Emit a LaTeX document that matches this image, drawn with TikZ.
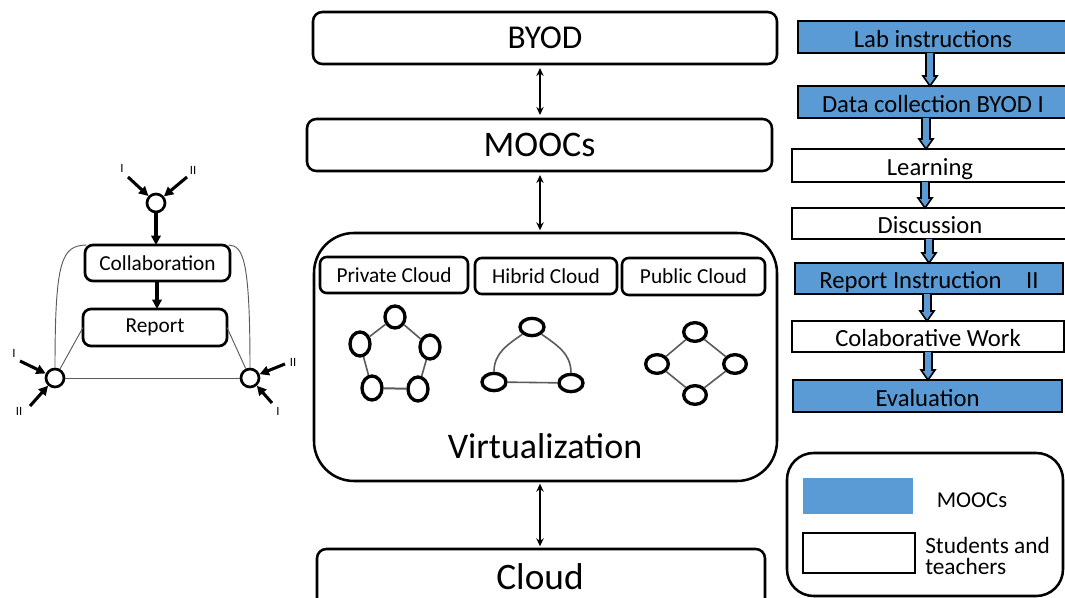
\documentclass[tikz,border=0pt]{standalone}
\usepackage{fontspec}
\setmainfont{Carlito}
\usetikzlibrary{arrows.meta,shapes.geometric,calc}
\definecolor{mblue}{HTML}{5B9BD5}
\definecolor{edgegray}{HTML}{5A5A5A}
\newcommand\flowarrow[3]{%
  \fill[mblue] let \p1=(#1.south), \p2=(#2.north), \p3=(#3,0) in
    (\x3-3pt,\y1) -- (\x3-3pt,\y2+7.5pt) -- (\x3-5.25pt,\y2+7.5pt) -- (\x3,\y2)
    -- (\x3+5.25pt,\y2+7.5pt) -- (\x3+3pt,\y2+7.5pt) -- (\x3+3pt,\y1) -- cycle;
  \draw[line width=1.2pt, line join=miter] let \p1=(#1.south), \p2=(#2.north), \p3=(#3,0) in
    (\x3-3pt,\y1) -- (\x3-3pt,\y2+7.5pt) -- (\x3-5.25pt,\y2+7.5pt) -- (\x3,\y2)
    -- (\x3+5.25pt,\y2+7.5pt) -- (\x3+3pt,\y2+7.5pt) -- (\x3+3pt,\y1);}
% box node from corner (x1,y1) to (x2,y2), in pixel units
\newcommand\bx[7]{%
  \node[#1, minimum width={(#5-#3)*0.75pt}, minimum height={(#6-#4)*0.75pt}]
    (#2) at ({(#3+#5)/2},{(#4+#6)/2}) {#7};}
\begin{document}
\begin{tikzpicture}[x=0.75pt,y=-0.75pt,
  rbox/.style={draw, line width=1.9pt, rounded corners=6pt, inner sep=0pt, outer sep=0pt},
  flowbox/.style={draw, line width=1.9pt, inner sep=0pt, outer sep=0pt, text height=15.75pt, text depth=0pt,
     font=\fontsize{18.5}{20}\selectfont},
  netnode/.style={draw, ellipse, line width=2.5pt, fill=white, inner sep=0pt},
  netedge/.style={draw=edgegray, line width=1.2pt},
  dar/.style={{Stealth[length=6pt,width=5.5pt]}-{Stealth[length=6pt,width=5.5pt]}, line width=1.6pt},
  thar/.style={-{Triangle[length=7pt,width=7pt]}, line width=2.3pt},
  thinl/.style={draw=edgegray, line width=0.7pt},
  dot/.style={draw, circle, line width=2pt, minimum size=13.5pt, inner sep=0pt},
  rn/.style={font=\fontsize{9.5}{10}\selectfont, inner sep=0pt}
]
\useasboundingbox (0,0) rectangle (1065,598);
\clip (0,0) rectangle (1065,598);

% ---------- centre column ----------
\coordinate (ax) at (540,0);
\bx{rbox, rounded corners=7pt, font=\fontsize{25}{28}\selectfont}{byod}{313}{12}{777}{64}{BYOD}
\bx{rbox, rounded corners=7pt, font=\fontsize{27}{30}\selectfont}{moocs}{307}{119}{772}{171}{MOOCs}
\bx{rbox, rounded corners=30pt}{virt}{314}{233}{777}{481}{}
\node[font=\fontsize{27}{30}\selectfont, inner sep=0pt] (virttext) at (545,446) {Virtualization};
\bx{rbox, rounded corners=7pt}{cloud}{317}{549}{765}{612}{}
\node[font=\fontsize{28}{30}\selectfont, inner sep=0pt, text height=19pt, text depth=0pt] (cloudtext) at (540,577) {Cloud};

\bx{rbox, rounded corners=5pt, font=\fontsize{16}{18}\selectfont}{priv}{320}{257}{468}{293}{Private Cloud}
\bx{rbox, rounded corners=5pt, font=\fontsize{16}{18}\selectfont}{hib}{475}{258}{617}{294}{Hibrid Cloud}
\bx{rbox, rounded corners=5pt, font=\fontsize{16}{18}\selectfont}{pub}{622}{258}{765}{295}{Public Cloud}

\draw[dar, shorten <=3pt, shorten >=3pt] (byod.south -| ax) -- (moocs.north -| ax);
\draw[dar, shorten <=3pt, shorten >=2pt] (moocs.south -| ax) -- (virt.north -| ax);
\draw[dar, shorten <=2pt, shorten >=2pt] (virt.south -| ax) -- (cloud.north -| ax);

% private cloud: pentagon
\node[netnode, minimum width=15pt, minimum height=16.5pt] (pa) at (395,317) {};
\node[netnode, minimum width=15pt, minimum height=18pt] (pb) at (360,344) {};
\node[netnode, minimum width=15pt, minimum height=18pt] (pc) at (430,347) {};
\node[netnode, minimum width=15pt, minimum height=18pt] (pd) at (372,388) {};
\node[netnode, minimum width=15pt, minimum height=18pt] (pe) at (418,389) {};
\path[netedge] (pa) -- (pb) (pa) -- (pc) (pb) -- (pd) (pc) -- (pe);
\path[netedge, line width=1.5pt] (pd) -- (pe);

% hibrid cloud: arc triangle
\node[netnode, minimum width=18pt, minimum height=13pt] (ha) at (532,327) {};
\node[netnode, minimum width=18pt, minimum height=13pt] (hb) at (494,382) {};
\node[netnode, minimum width=18pt, minimum height=13pt] (hc) at (571,383) {};
\path[netedge] (hb.north) to[out=90, in=215] (ha.south west);
\path[netedge] (hc.north) to[out=90, in=-35] (ha.south east);
\path[netedge] (hb) -- (hc);

% public cloud: diamond
\node[netnode, minimum width=17pt, minimum height=14pt] (da) at (695,332) {};
\node[netnode, minimum width=17pt, minimum height=14pt] (db) at (657,364) {};
\node[netnode, minimum width=17pt, minimum height=14pt] (dc) at (735,364) {};
\node[netnode, minimum width=17pt, minimum height=14pt] (dd) at (695,395) {};
\path[netedge] (da) -- (db) (da) -- (dc) (db) -- (dd) (dc) -- (dd);

% ---------- right column ----------
\bx{flowbox, fill=mblue}{lab}{798}{21}{1068}{53}{Lab instructions}
\bx{flowbox, fill=mblue}{data}{798}{86}{1068}{118}{Data collection BYOD I}
\bx{flowbox}{learn}{792}{149}{1068}{182}{Learning}
\bx{flowbox}{disc}{792}{208}{1068}{239}{Discussion}
\bx{flowbox, fill=mblue}{rep}{795}{263}{1063}{294}{Report Instruction\quad II}
\bx{flowbox}{colab}{792}{321}{1064}{352}{Colaborative Work}
\bx{flowbox, fill=mblue}{eval}{793}{380}{1062}{412}{Evaluation}

\flowarrow{lab}{data}{930}
\flowarrow{data}{learn}{926}
\flowarrow{learn}{disc}{925}
\flowarrow{disc}{rep}{929}
\flowarrow{rep}{colab}{927}
\flowarrow{colab}{eval}{928}

% legend
\bx{rbox, rounded corners=20pt}{legend}{787}{453}{1063}{596}{}
\bx{fill=mblue, inner sep=0pt}{legblue}{803}{478}{913}{514}{}
\bx{draw, line width=2pt, inner sep=0pt}{legwhite}{803}{533}{915}{573}{}
\node[font=\fontsize{17}{19}\selectfont, inner sep=0pt] (legt1) at (972,500) {MOOCs};
\node[font=\fontsize{17.5}{16}\selectfont, inner sep=0pt, anchor=west, align=left] (legt2) at (925,556) {Students and\\teachers};

% ---------- left diagram ----------
\bx{rbox, line width=2pt, font=\fontsize{16}{18}\selectfont}{collab}{85}{245}{230}{281}{Collaboration}
\bx{rbox, line width=2pt, font=\fontsize{16}{18}\selectfont}{report}{83}{309}{227}{346}{Report}
\node[dot] (c1) at (156,203) {};
\node[dot] (c2) at (55,378) {};
\node[dot] (c3) at (250,378) {};

\draw[thar] (c1.south) -- (c1.south |- collab.north);
\draw[thar] (collab.south -| 157,0) -- (report.north -| 157,0);

\path[thinl] (c2) -- (c3);
\path[thinl] (report.west) -- (c2);
\path[thinl] (report.east) -- (c3);
\path[thinl] (c2.north) .. controls (55,258) and (62,246) .. ([xshift=1pt]collab.north west);
\path[thinl] (c3.north) .. controls (250,258) and (243,246) .. ([xshift=-1pt]collab.north east);

\node[rn] (l1) at (122,168) {I};
\node[rn] (l2) at (193,170) {II};
\coordinate (s1) at (128,177);
\coordinate (s2) at (187,177);
\draw[thar] (s1) -- (c1);
\draw[thar] (s2) -- (c1);

\node[rn] (l3) at (14,353) {I};
\node[rn] (l4) at (19,411) {II};
\coordinate (s3) at (20,361);
\coordinate (s4) at (30,406);
\draw[thar] (s3) -- (c2);
\draw[thar] (s4) -- (c2);

\node[rn] (l5) at (293,362) {II};
\node[rn] (l6) at (278,411) {I};
\coordinate (s5) at (285,364);
\coordinate (s6) at (272,403);
\draw[thar] (s5) -- (c3);
\draw[thar] (s6) -- (c3);
\end{tikzpicture}
\end{document}
